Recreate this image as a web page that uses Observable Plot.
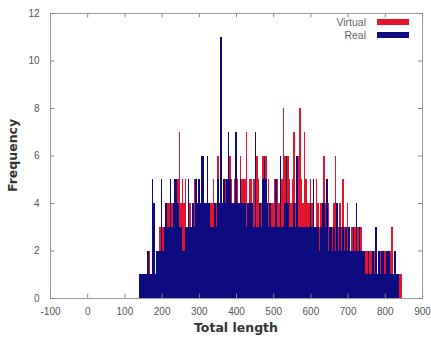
<!DOCTYPE html>
<html>
<head>
<meta charset="utf-8">
<script src="https://cdn.jsdelivr.net/npm/d3@7"></script>
<script src="https://cdn.jsdelivr.net/npm/@observablehq/plot@0.6"></script>
<style>
  html, body { margin: 0; padding: 0; background: #fff; }
  #chart { position: relative; width: 431px; height: 337px; }
  #chart .bar rect { shape-rendering: crispEdges; }
</style>
</head>
<body>
<div id="chart"></div>
<script>
// Histogram bins: first bin start and bin width (Total length units)
const binStart = 138;
const binWidth = 4;

// Frequencies per bin (bins 138,142,...,846)
const realFreq = [
  1,1,1,1,1,1,2,1,1,5,
  4,1,2,2,2,5,2,3,4,3,
  3,5,3,4,5,5,4,3,3,2,
  2,3,3,5,3,3,4,3,5,4,
  5,4,6,6,4,4,6,4,3,3,
  3,4,3,5,4,11,4,5,4,5,
  7,5,4,4,4,7,4,4,5,4,
  4,4,3,4,4,4,4,3,7,3,
  3,4,3,5,6,5,4,3,4,3,
  3,3,5,3,3,6,3,3,4,6,
  4,3,3,3,4,3,6,3,3,3,
  3,3,3,3,3,4,3,5,3,3,
  3,2,3,4,4,3,5,2,3,3,
  2,3,2,4,2,3,2,3,2,3,
  2,3,2,2,3,2,4,2,3,2,
  2,2,1,1,2,1,1,2,1,3,
  1,2,1,2,2,1,2,2,2,1,
  1,1,2,1,1,0,0,0
];
const virtualFreq = [
  0,1,1,0,1,1,1,2,1,1,
  1,1,2,2,3,2,3,2,3,4,
  4,3,4,4,3,4,5,7,4,5,
  4,5,3,4,4,3,4,5,3,4,
  3,4,3,4,3,4,3,4,4,4,
  5,4,4,6,4,3,4,5,5,4,
  5,6,5,4,5,7,5,4,6,5,
  5,5,7,4,5,5,4,5,5,6,
  5,4,4,6,5,6,4,5,4,4,
  4,5,4,5,4,6,5,8,6,5,
  6,5,4,5,7,4,5,6,8,5,
  4,7,5,4,4,5,4,4,3,5,
  4,3,4,3,6,4,3,4,3,3,
  3,4,6,3,3,4,3,5,3,2,
  4,3,2,3,2,3,2,3,2,3,
  2,2,2,2,1,2,2,1,2,2,
  1,1,2,1,1,2,1,2,1,2,
  3,1,1,1,1,1,1,0
];

const xTicks = [-100, 0, 100, 200, 300, 400, 500, 600, 700, 800, 900];
const yTicks = [0, 2, 4, 6, 8, 10, 12];
const seriesNames = ["Virtual", "Real"];
const seriesColors = ["#e3142b", "#0c0c80"];

const toRows = (arr) => arr.map((f, i) => ({len: binStart + i * binWidth, freq: f})).filter(d => d.freq > 0);
const virtualRows = toRows(virtualFreq);
const realRows = toRows(realFreq);

const W = 431, H = 337;
const mL = 50, mR = 9, mT = 13, mB = 39;
const FONT = "Liberation Sans, Arial, sans-serif";

const plot = Plot.plot({
  width: W,
  height: H,
  marginLeft: mL,
  marginRight: mR,
  marginTop: mT,
  marginBottom: mB,
  style: {fontFamily: FONT, fontSize: "10px", color: "#555", background: "#fff"},
  x: {domain: [-100, 900]},
  y: {domain: [0, 12]},
  marks: [
    Plot.rectY(virtualRows, {x1: "len", x2: d => d.len + binWidth, y: "freq", fill: seriesColors[0], className: "bar"}),
    Plot.rectY(realRows, {x1: "len", x2: d => d.len + binWidth, y: "freq", fill: seriesColors[1], className: "bar"}),
    Plot.frame({stroke: "#999", strokeWidth: 1}),
    Plot.axisX(xTicks, {tickSize: 0, tickPadding: 9, fill: "#555", fontSize: 10, label: null, tickFormat: d => String(d)}),
    Plot.axisY(yTicks, {tickSize: 0, tickPadding: 11, fill: "#555", fontSize: 10, label: null, tickFormat: d => String(d)}),
    // inward gnuplot-style ticks (bottom, top, left, right)
    Plot.ruleX(xTicks, {x: d => d, y1: 0, y2: 0.18, stroke: "#888"}),
    Plot.ruleX(xTicks, {x: d => d, y1: 11.82, y2: 12, stroke: "#888"}),
    Plot.ruleY(yTicks, {y: d => d, x1: -100, x2: -89, stroke: "#888"}),
    Plot.ruleY(yTicks, {y: d => d, x1: 889, x2: 900, stroke: "#888"})
  ]
});

const svg = d3.select(plot);
// Axis titles
svg.append("text")
  .attr("x", mL + (W - mL - mR) / 2).attr("y", H - 5)
  .attr("text-anchor", "middle")
  .attr("font-family", "DejaVu Sans, sans-serif").attr("font-size", 12.5).attr("font-weight", "bold")
  .attr("fill", "#333").text("Total length");
svg.append("text")
  .attr("transform", `translate(17,${mT + (H - mT - mB) / 2}) rotate(-90)`)
  .attr("text-anchor", "middle")
  .attr("font-family", "DejaVu Sans, sans-serif").attr("font-size", 12.5).attr("font-weight", "bold")
  .attr("fill", "#333").text("Frequency");
// Legend
seriesNames.forEach((name, i) => {
  const yy = 22 + i * 13;
  svg.append("text")
    .attr("x", 366).attr("y", yy).attr("dy", "0.35em")
    .attr("text-anchor", "end")
    .attr("font-family", FONT).attr("font-size", 10.5)
    .attr("fill", "#666").text(name);
  svg.append("rect")
    .attr("x", 377).attr("y", yy - 3).attr("width", 32).attr("height", 6)
    .attr("fill", seriesColors[i]);
});

document.getElementById("chart").appendChild(plot);
</script>
</body>
</html>
